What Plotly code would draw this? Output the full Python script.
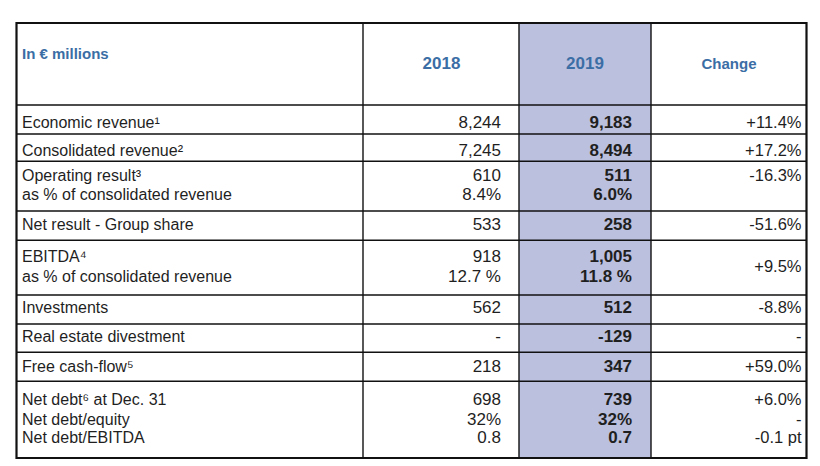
import plotly.graph_objects as go

# ---- table content ----
header_title = "In € millions"
columns = ["2018", "2019", "Change"]
row_labels = [
    ["Economic revenue¹"],
    ["Consolidated revenue²"],
    ["Operating result³", "as % of consolidated revenue"],
    ["Net result - Group share"],
    ["EBITDA⁴", "as % of consolidated revenue"],
    ["Investments"],
    ["Real estate divestment"],
    ["Free cash-flow⁵"],
    ["Net debt⁶ at Dec. 31", "Net debt/equity", "Net debt/EBITDA"],
]
values_2018 = [["8,244"], ["7,245"], ["610", "8.4%"], ["533"], ["918", "12.7 %"],
               ["562"], ["-"], ["218"], ["698", "32%", "0.8"]]
values_2019 = [["9,183"], ["8,494"], ["511", "6.0%"], ["258"], ["1,005", "11.8 %"],
               ["512"], ["-129"], ["347"], ["739", "32%", "0.7"]]
values_change = [["+11.4%"], ["+17.2%"], ["-16.3%"], ["-51.6%"], [None, "+9.5%"],
                 ["-8.8%"], ["-"], ["+59.0%"], ["+6.0%", "-", "-0.1 pt"]]

# ---- layout geometry (page pixels) ----
W, H = 820, 466
col_edges = [16.5, 363, 519, 651, 806.5]
row_edges = [23, 105, 134, 161.3, 211, 240.3, 295, 324, 352.3, 381.3, 458]
line_y = [[124.2], [151.9], [176.9, 196.2], [225.5], [258.2, 277.5], [309.2], [338.2], [367.5],
          [400.9, 420.5, 439.2]]
change_y = [[124.2], [151.9], [176.9], [225.5], [258.2, 267.7], [309.2], [338.2], [367.5],
            [400.9, 420.5, 439.2]]
label_x, r18, r19, rch = 22, 501, 632, 801.5
FONT = "Liberation Sans"
SIZE = 16
TXT = "#1f1f1f"
BLUE = "#3b6ea5"
FILL = "#bbc0de"

fig = go.Figure()


def add_text(x, ys, rows, pos, color=TXT, bold=False, size=SIZE):
    xs, yy, tt = [], [], []
    for ylist, tlist in zip(ys, rows):
        for y, t in zip(ylist, tlist):
            if t is None:
                continue
            xs.append(x)
            yy.append(y)
            tt.append(f"<b>{t}</b>" if bold else t)
    fig.add_trace(go.Scatter(x=xs, y=yy, text=tt, mode="text", textposition=pos,
                             textfont=dict(family=FONT, size=size, color=color),
                             hoverinfo="skip", showlegend=False))


add_text(label_x, line_y, row_labels, "middle right")
add_text(r18, line_y, values_2018, "middle left", size=17)
add_text(r19, line_y, values_2019, "middle left", bold=True, size=17)
add_text(rch, change_y, values_change, "middle left", size=16.5)

hdr_x = [441.5, 585, 729]
fig.add_trace(go.Scatter(x=hdr_x, y=[65, 65, 65], text=[f"<b>{c}</b>" for c in columns],
                         mode="text", textposition="middle center",
                         textfont=dict(family=FONT, size=[17, 17, 15], color=BLUE),
                         hoverinfo="skip", showlegend=False))
fig.add_trace(go.Scatter(x=[label_x], y=[55.5], text=[f"<b>{header_title}</b>"],
                         mode="text", textposition="middle right",
                         textfont=dict(family=FONT, size=SIZE - 1, color=BLUE),
                         hoverinfo="skip", showlegend=False))

shapes = [dict(type="rect", x0=col_edges[2], x1=col_edges[3], y0=row_edges[0], y1=row_edges[-1],
               fillcolor=FILL, line_width=0, layer="below")]
for y in row_edges[1:-1]:
    shapes.append(dict(type="line", x0=col_edges[0], x1=col_edges[-1], y0=y, y1=y,
                       line=dict(color="#111111", width=1.4)))
for x in col_edges[1:-1]:
    shapes.append(dict(type="line", x0=x, x1=x, y0=row_edges[0], y1=row_edges[-1],
                       line=dict(color="#111111", width=1.4)))
shapes.append(dict(type="rect", x0=col_edges[0], x1=col_edges[-1], y0=row_edges[0], y1=row_edges[-1],
                   line=dict(color="#111111", width=2.2)))

fig.update_layout(
    width=W, height=H, margin=dict(l=0, r=0, t=0, b=0),
    paper_bgcolor="white", plot_bgcolor="white", shapes=shapes,
    xaxis=dict(range=[0, W], visible=False, fixedrange=True),
    yaxis=dict(range=[H, 0], visible=False, fixedrange=True),
)
fig.write_html("out.html", config={"displayModeBar": False},
               post_script="document.body.style.margin='0';document.body.style.overflow='hidden';")
